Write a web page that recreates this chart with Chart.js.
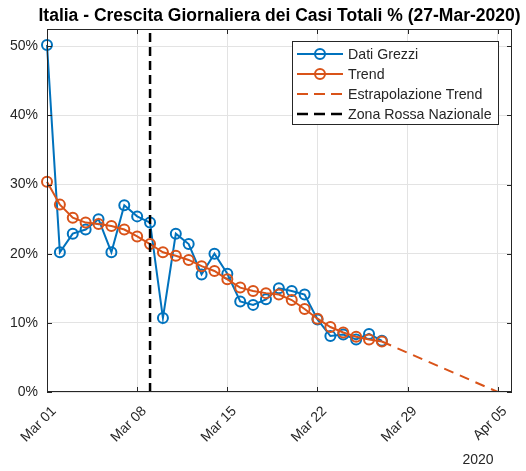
<!DOCTYPE html>
<html lang="it">
<head>
    <meta charset="UTF-8">
    <title>Italia - Crescita Giornaliera dei Casi Totali</title>
    <script src="https://cdn.jsdelivr.net/npm/chart.js"></script>
    <style>
        html, body { margin: 0; padding: 0; background: #fff; }
        #wrap { width: 526px; height: 471px; }
    </style>
</head>
<body>
    <div id="wrap"><canvas id="grafico" width="526" height="471"></canvas></div>

    <script>
        // dati (giorno 0 = 1 marzo 2020)
        const datiGrezzi = [50.2, 20.2, 22.9, 23.5, 25.0, 20.2, 27.0, 25.4, 24.5, 10.7,
                            22.9, 21.4, 17.0, 20.0, 17.1, 13.1, 12.6, 13.4, 15.0, 14.6,
                            14.1, 10.5, 8.1, 8.3, 7.6, 8.4, 7.4];
        const trend = [30.4, 27.1, 25.2, 24.5, 24.3, 24.0, 23.5, 22.5, 21.4, 20.2,
                       19.7, 19.1, 18.2, 17.5, 16.3, 15.1, 14.6, 14.3, 14.1, 13.3,
                       12.0, 10.6, 9.4, 8.6, 8.0, 7.6, 7.3];
        const estrapolazioneGiorni = [26, 35];
        const estrapolazioneValori = [7.3, 0];
        const zonaRossaGiorno = 8;      // 9 marzo
        const yMax = 52.5;
        const xMax = 36.1;
        const xTickGiorni = [0, 7, 14, 21, 28, 35];
        const xTickEtichette = ['Mar 01', 'Mar 08', 'Mar 15', 'Mar 22', 'Mar 29', 'Apr 05'];
        const yTickValori = [0, 10, 20, 30, 40, 50];

        const BLU = '#0072BD';
        const ARANCIO = '#D95319';
        const ASSE = '#262626';
        const FONT = '"Liberation Sans", Arial, Helvetica, sans-serif';

        function punti(valori) {
            return valori.map((v, i) => ({ x: i, y: v }));
        }

        // titolo, cornice, tacche interne, legenda e anno
        const decorazioni = {
            id: 'decorazioni',
            afterDatasetsDraw(chart) {
                const ctx = chart.ctx;
                const a = chart.chartArea;
                const sx = chart.scales.x, sy = chart.scales.y;
                ctx.save();

                // cornice
                ctx.strokeStyle = ASSE;
                ctx.lineWidth = 1;
                ctx.strokeRect(a.left + 0.5, a.top + 0.5, a.right - a.left - 1, a.bottom - a.top - 1);

                // tacche verso l'interno
                ctx.beginPath();
                xTickGiorni.forEach(g => {
                    const x = Math.round(sx.getPixelForValue(g)) + 0.5;
                    ctx.moveTo(x, a.bottom); ctx.lineTo(x, a.bottom - 5);
                    ctx.moveTo(x, a.top); ctx.lineTo(x, a.top + 5);
                });
                yTickValori.forEach(v => {
                    const y = Math.round(sy.getPixelForValue(v)) + 0.5;
                    ctx.moveTo(a.left, y); ctx.lineTo(a.left + 5, y);
                    ctx.moveTo(a.right, y); ctx.lineTo(a.right - 5, y);
                });
                ctx.stroke();

                // titolo
                ctx.fillStyle = '#000';
                ctx.font = 'bold 17.5px ' + FONT;
                ctx.textAlign = 'center';
                ctx.textBaseline = 'middle';
                ctx.fillText('Italia - Crescita Giornaliera dei Casi Totali % (27-Mar-2020)', (a.left + a.right) / 2, 16);

                // anno sotto l'asse
                ctx.fillStyle = ASSE;
                ctx.font = '14px ' + FONT;
                ctx.fillText('2020', a.right - 34, 460);

                // legenda
                const lx = a.right - 220, ly = a.top + 12, lw = 206, lh = 83;
                ctx.fillStyle = '#fff';
                ctx.fillRect(lx, ly, lw, lh);
                ctx.strokeStyle = ASSE;
                ctx.lineWidth = 1;
                ctx.strokeRect(lx + 0.5, ly + 0.5, lw, lh);

                const voci = [
                    { testo: 'Dati Grezzi', colore: BLU, dash: [], marker: true, w: 2 },
                    { testo: 'Trend', colore: ARANCIO, dash: [], marker: true, w: 2 },
                    { testo: 'Estrapolazione Trend', colore: ARANCIO, dash: [11, 6], marker: false, w: 2 },
                    { testo: 'Zona Rossa Nazionale', colore: '#000', dash: [11, 6], marker: false, w: 2.5 }
                ];
                voci.forEach((v, i) => {
                    const y = ly + 13 + i * 20;
                    ctx.strokeStyle = v.colore;
                    ctx.lineWidth = v.w;
                    ctx.setLineDash(v.dash);
                    ctx.beginPath();
                    ctx.moveTo(lx + 5, y); ctx.lineTo(lx + 51, y);
                    ctx.stroke();
                    ctx.setLineDash([]);
                    if (v.marker) {
                        ctx.beginPath();
                        ctx.arc(lx + 28, y, 5, 0, Math.PI * 2);
                        ctx.stroke();
                    }
                    ctx.fillStyle = ASSE;
                    ctx.font = '14.2px ' + FONT;
                    ctx.textAlign = 'left';
                    ctx.fillText(v.testo, lx + 56, y + 1);
                });
                ctx.restore();
            }
        };

        new Chart(document.getElementById('grafico'), {
            type: 'line',
            data: {
                datasets: [
                    {
                        label: 'Zona Rossa Nazionale',
                        data: [{ x: zonaRossaGiorno, y: 0 }, { x: zonaRossaGiorno, y: yMax }],
                        borderColor: '#000',
                        borderWidth: 2.5,
                        borderDash: [9, 5],
                        pointRadius: 0,
                        order: 0
                    },
                    {
                        label: 'Estrapolazione Trend',
                        data: estrapolazioneGiorni.map((g, i) => ({ x: g, y: estrapolazioneValori[i] })),
                        borderColor: ARANCIO,
                        borderWidth: 2,
                        borderDash: [10, 7],
                        pointRadius: 0,
                        order: 1
                    },
                    {
                        label: 'Trend',
                        data: punti(trend),
                        borderColor: ARANCIO,
                        borderWidth: 2,
                        pointRadius: 5,
                        pointBorderWidth: 2,
                        pointBackgroundColor: 'rgba(0,0,0,0)',
                        pointBorderColor: ARANCIO,
                        clip: false,
                        order: 2
                    },
                    {
                        label: 'Dati Grezzi',
                        data: punti(datiGrezzi),
                        borderColor: BLU,
                        borderWidth: 2,
                        pointRadius: 5,
                        pointBorderWidth: 2,
                        pointBackgroundColor: 'rgba(0,0,0,0)',
                        pointBorderColor: BLU,
                        clip: false,
                        order: 3
                    }
                ]
            },
            options: {
                responsive: false,
                animation: false,
                layout: { padding: { top: 29, right: 14, left: 0, bottom: 0 } },
                plugins: {
                    legend: { display: false },
                    title: { display: false },
                    tooltip: { enabled: false }
                },
                scales: {
                    x: {
                        type: 'linear',
                        min: 0,
                        max: xMax,
                        afterBuildTicks: s => { s.ticks = xTickGiorni.map(v => ({ value: v })); },
                        afterFit: s => { s.height = 79; },
                        grid: { color: '#e3e3e3', drawTicks: false },
                        border: { display: false },
                        ticks: {
                            maxRotation: 45,
                            minRotation: 45,
                            padding: 11,
                            labelOffset: 7,
                            color: ASSE,
                            font: { family: FONT, size: 14 },
                            callback: v => xTickEtichette[xTickGiorni.indexOf(v)]
                        }
                    },
                    y: {
                        min: 0,
                        max: yMax,
                        afterBuildTicks: s => { s.ticks = yTickValori.map(v => ({ value: v })); },
                        afterFit: s => { s.width = 47; },
                        grid: { color: '#e3e3e3', drawTicks: false },
                        border: { display: false },
                        ticks: {
                            padding: 9,
                            color: ASSE,
                            font: { family: FONT, size: 14 },
                            callback: v => v + '%'
                        }
                    }
                }
            },
            plugins: [decorazioni]
        });
    </script>
</body>
</html>
